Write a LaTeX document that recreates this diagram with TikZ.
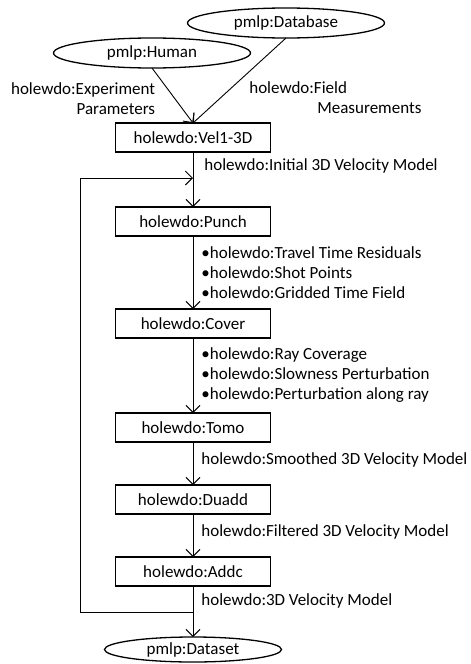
\documentclass[tikz,border=0pt]{standalone}
\usepackage{fontspec}
\setmainfont{Carlito}
\usetikzlibrary{arrows.meta,positioning,shapes.geometric}
\tikzset{
  >={Straight Barb[length=7pt,width=14pt]},
  flow/.style={->,line width=0.9pt,draw=black},
  procbox/.style={rectangle,draw=black,line width=1.3pt,outer sep=0pt,
    minimum width=155pt,minimum height=29pt,inner sep=2pt},
  agent/.style={ellipse,draw=black,line width=1.3pt,outer sep=0pt,
    minimum width=197pt,minimum height=30pt,inner sep=0pt},
  lbl/.style={inner sep=2pt}
}

\begin{document}
\begin{tikzpicture}[x=1pt,y=1pt,font=\fontsize{17}{20}\selectfont]
  \useasboundingbox (0,0) rectangle (471,-664);
  \node[agent] (db) at (286,-23) {pmlp:Database};
  \node[agent] (human) at (152,-53) {pmlp:Human};
  \node[procbox] (vel) at (193,-137.5) {holewdo:Vel1-3D};
  \node[procbox,below=55pt of vel] (punch) {holewdo:Punch};
  \node[procbox,below=73pt of punch] (cover) {holewdo:Cover};
  \node[procbox,below=75pt of cover] (tomo) {holewdo:Tomo};
  \node[procbox,below=43pt of tomo] (duadd) {holewdo:Duadd};
  \node[procbox,below=43pt of duadd] (addc) {holewdo:Addc};
  \node[agent,minimum width=177pt,minimum height=25pt,below=51pt of addc] (dataset) {pmlp:Dataset};
  % loop back from Addc output to Punch input
  \coordinate[below=26pt of vel] (join);
  \coordinate[below=26pt of addc] (split);

  \draw[flow] (human.south) -- node[lbl,pos=0.55,left=17pt,align=right]{holewdo:Experiment\\Parameters} (vel.north);
  \draw[flow] (db.south) -- node[lbl,pos=0.7,right=26pt,align=left]{holewdo:Field\\\hspace*{68pt}Measurements} (vel.north);
  \draw[flow] (vel) -- node[lbl,pos=0.25,right=9pt]{holewdo:Initial 3D Velocity Model} (punch);
  \draw[flow] (punch) -- node[lbl,right=6pt,align=left]{\textbullet holewdo:Travel Time Residuals\\\textbullet holewdo:Shot Points\\\textbullet holewdo:Gridded Time Field} (cover);
  \draw[flow] (cover) -- node[lbl,right=6pt,align=left]{\textbullet holewdo:Ray Coverage\\\textbullet holewdo:Slowness Perturbation\\\textbullet holewdo:Perturbation along ray} (tomo);
  \draw[flow] (tomo) -- node[lbl,pos=0.41,right=6pt]{holewdo:Smoothed 3D Velocity Model} (duadd);
  \draw[flow] (duadd) -- node[lbl,pos=0.41,right=6pt]{holewdo:Filtered 3D Velocity Model} (addc);
  \draw[flow] (addc) -- node[lbl,pos=0.3,right=6pt]{holewdo:3D Velocity Model} (dataset);
  \draw[flow] (split) -- ++(-113,0) |- (join);
\end{tikzpicture}
\end{document}
